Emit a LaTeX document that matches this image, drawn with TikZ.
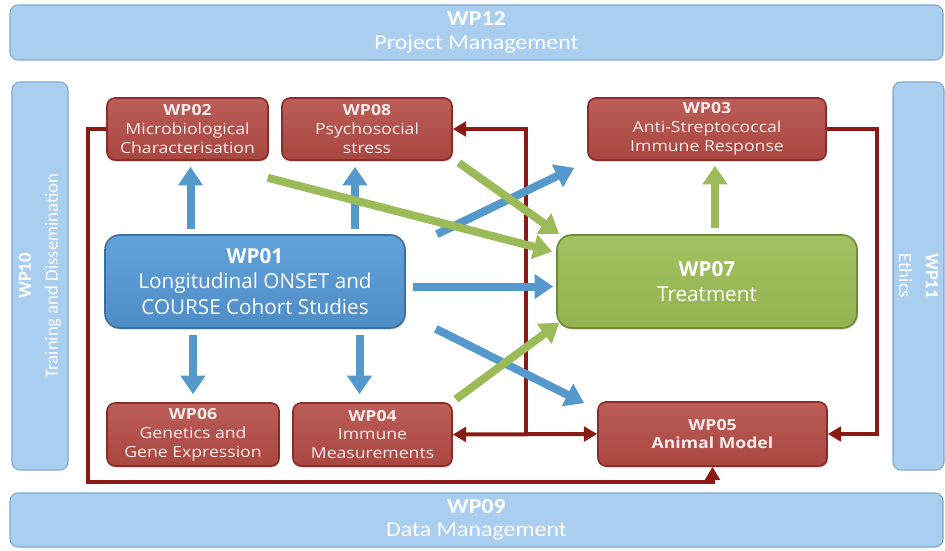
\documentclass[tikz,border=0pt]{standalone}
\usepackage{fontspec}
\setmainfont{Open Sans}
\newfontfamily\widefont{Open Sans}[FakeStretch=1.15]
\newfontfamily\bandwide{Carlito}[FakeStretch=1.12]
\newfontfamily\bandfont{Carlito}
\usetikzlibrary{arrows.meta,calc,shadows}

\definecolor{bandfill}{HTML}{A9CEF0}
\definecolor{banddraw}{HTML}{7FA8CF}
\definecolor{redtop}{HTML}{BC5D59}
\definecolor{redbot}{HTML}{A9463F}
\definecolor{reddraw}{HTML}{8A2C2A}
\definecolor{bluetop}{HTML}{62A2DA}
\definecolor{bluebot}{HTML}{4E8CC6}
\definecolor{bluedraw}{HTML}{3C6E9E}
\definecolor{greentop}{HTML}{A2C160}
\definecolor{greenbot}{HTML}{93B250}
\definecolor{greendraw}{HTML}{6E8A3A}
\definecolor{bluearr}{HTML}{5599CC}
\definecolor{greenarr}{HTML}{9BBB59}
\definecolor{redline}{HTML}{8B1A14}
\definecolor{boxtext}{HTML}{F7ECEC}

\tikzset{
  band/.style={draw=banddraw, line width=0.8pt, fill=bandfill, rounded corners=6pt,
    text=white, align=center, inner sep=0pt},
  wpbox/.style={rounded corners=6pt, line width=1.2pt, align=center, inner sep=0pt,
    text=boxtext, drop shadow={opacity=0.35, shadow xshift=0.8pt, shadow yshift=-1.2pt}},
  redbox/.style={wpbox, draw=reddraw, top color=redtop, bottom color=redbot,
    minimum height=46.5pt, font=\widefont\fontsize{11.5}{14.2}\selectfont},
  lowbox/.style={redbox, minimum height=47.25pt},
  bigblue/.style={wpbox, draw=bluedraw, top color=bluetop, bottom color=bluebot,
    rounded corners=11pt, minimum width=225pt, minimum height=69.75pt,
    font=\fontsize{15.5}{19}\selectfont, text=white},
  biggreen/.style={bigblue, draw=greendraw, top color=greentop, bottom color=greenbot},
  bluearrow/.style={draw=bluearr, line width=6pt, -{Triangle[width=18pt,length=14pt]}},
  greenarrow/.style={draw=greenarr, line width=6pt, -{Triangle[width=18pt,length=14pt]}},
  redconn/.style={draw=redline, line width=3pt},
  redtip/.tip={Triangle[width=11pt,length=10pt]}
}

\begin{document}
\begin{tikzpicture}[x=0.75pt, y=-0.75pt]
  \useasboundingbox (0,0) rectangle (945,550);
  \fill[white] (0,0) rectangle (945,550);

  % surrounding work packages
  \node[band, minimum width=699.75pt, minimum height=41.25pt,
        font=\bandwide\fontsize{16}{17.5}\selectfont]
    (wp12) at (476.5,32.5) {\bfseries WP12\\Project Management};
  \node[band, minimum width=699.75pt, minimum height=40.5pt,
        font=\bandwide\fontsize{16}{17.5}\selectfont]
    (wp09) at (476.5,520) {\bfseries WP09\\Data Management};
  \node[band, rotate=90, minimum width=291pt, minimum height=42pt,
        font=\bandfont\fontsize{14}{20}\selectfont]
    (wp10) at (40,276) {\bfseries WP10\\Training and Dissemination};
  \node[band, rotate=-90, minimum width=291pt, minimum height=38.25pt,
        font=\bandfont\fontsize{14}{20}\selectfont]
    (wp11) at (918.5,276) {\bfseries WP11\\Ethics};

  % core work packages
  \node[redbox, minimum width=120.75pt] (wp02) at (187.5,129)
    {\bfseries WP02\\Microbiological\\Characterisation};
  \node[redbox, minimum width=127.5pt] (wp08) at (367,129)
    {\bfseries WP08\\Psychosocial\\stress};
  \node[redbox, minimum width=178.5pt] (wp03) at (707,129)
    {\bfseries WP03\\Anti-Streptococcal\\Immune Response};
  \node[bigblue] (wp01) at (255,281.5)
    {\bfseries WP01\\Longitudinal ONSET and\\COURSE Cohort Studies};
  \node[biggreen] (wp07) at (707,281.5) {\bfseries WP07\\Treatment};
  \node[lowbox, minimum width=129pt] (wp06) at (193,434.5)
    {\bfseries WP06\\Genetics and\\Gene Expression};
  \node[lowbox, minimum width=119.25pt] (wp04) at (372.5,434.5)
    {\bfseries WP04\\Immune\\Measurements};
  \node[lowbox, minimum width=171.75pt, minimum height=48pt,
        font=\widefont\bfseries\fontsize{11.5}{13}\selectfont]
    (wp05) at (712.5,434) {WP05\\Animal Model};

  % feedback links between work packages
  \coordinate (lcorner) at (88,482);
  \coordinate (rcorner) at (877,434);
  \coordinate (junction) at (526,434);
  \draw[redconn, -redtip] (wp02.west) -| (lcorner) -| (wp05.south);
  \draw[redconn, -redtip] (wp03.east) -| (rcorner) -- (wp05.east);
  \draw[redconn, -redtip] (junction) |- (wp08.east);
  \draw[redconn, redtip-redtip] (wp04.east) -- (wp05.west);

  % cohort studies feed the other packages
  \draw[bluearrow] ($(wp02.south)+(3,68)$) -- ($(wp02.south)+(3,6)$);
  \draw[bluearrow] ($(wp08.south)+(-12,68)$) -- ($(wp08.south)+(-12,6)$);
  \draw[bluearrow] ($(wp06.north)+(0,-67)$) -- ($(wp06.north)+(0,-8)$);
  \draw[bluearrow] ($(wp04.north)+(-13,-67)$) -- ($(wp04.north)+(-13,-8)$);
  \draw[bluearrow] ($(wp01.east)+(7,5)$) -- ($(wp07.west)+(-3,5)$);
  \draw[bluearrow] ($(wp01.north east)+(31,0)$) -- ($(wp03.south west)+(-13,7)$);
  \draw[bluearrow] ($(wp01.south east)+(30,0)$) -- ($(wp05.north west)+(-13,2)$);

  % inputs to treatment and its output
  \draw[greenarrow] ($(wp02.south east)+(-1,17)$) -- ($(wp07.west)+(-4,-30)$);
  \draw[greenarrow] ($(wp08.south east)+(6,2)$) -- ($(wp07.north west)+(3,0)$);
  \draw[greenarrow] ($(wp04.north east)+(3,-3)$) -- ($(wp07.south west)+(3,-6)$);
  \draw[greenarrow] ($(wp07.north)+(8,-6)$) -- ($(wp03.south)+(8,5)$);
\end{tikzpicture}
\end{document}
